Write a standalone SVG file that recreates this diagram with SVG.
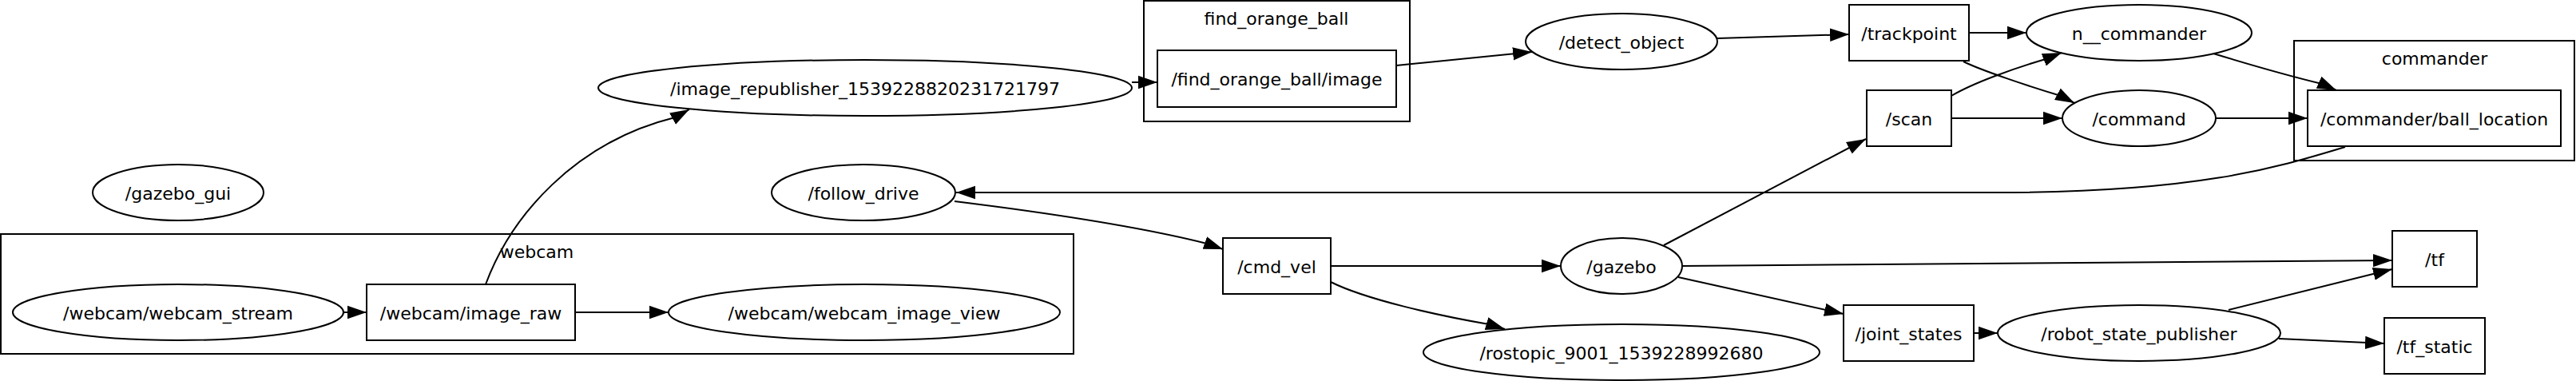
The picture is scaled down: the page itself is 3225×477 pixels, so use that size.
<svg xmlns="http://www.w3.org/2000/svg" width="3225" height="477" viewBox="0 0 3225 477">
<style>
text{font-family:"DejaVu Sans","Liberation Sans",sans-serif;font-size:22px;fill:#000;text-anchor:middle}
.n{fill:none;stroke:#000;stroke-width:2}
.c{fill:none;stroke:#000;stroke-width:2}
.e{fill:none;stroke:#000;stroke-width:2;marker-end:url(#ah)}
</style>
<defs>
<marker id="ah" markerUnits="userSpaceOnUse" markerWidth="24" markerHeight="18" viewBox="0 0 22 16" refX="22" refY="8" orient="auto">
<path d="M0,0.5 L22,8 L0,15.5 z" fill="#000"/>
</marker>
</defs>
<rect x="0" y="0" width="3225" height="477" fill="#fff"/>

<g id="cluster_webcam"><rect class="c" x="1" y="293" width="1343" height="150"/><text x="672" y="323">webcam</text></g>
<g id="cluster_find_orange_ball"><rect class="c" x="1432" y="1" width="333" height="151"/><text x="1598" y="31">find_orange_ball</text></g>
<g id="cluster_commander"><rect class="c" x="2872" y="51" width="351" height="150"/><text x="3048" y="81">commander</text></g>

<g id="gazebo_gui"><ellipse class="n" cx="223" cy="241" rx="107" ry="35"/><text x="223" y="250">/gazebo_gui</text></g>
<g id="follow_drive"><ellipse class="n" cx="1081" cy="241" rx="115" ry="35"/><text x="1081" y="250">/follow_drive</text></g>
<g id="webcam_stream"><ellipse class="n" cx="223" cy="391" rx="207" ry="35"/><text x="223" y="400">/webcam/webcam_stream</text></g>
<g id="image_raw"><rect class="n" x="459" y="356" width="261" height="70"/><text x="589.5" y="400">/webcam/image_raw</text></g>
<g id="webcam_image_view"><ellipse class="n" cx="1082" cy="391" rx="245" ry="35"/><text x="1082" y="400">/webcam/webcam_image_view</text></g>
<g id="image_republisher"><ellipse class="n" cx="1083" cy="110" rx="334" ry="35"/><text x="1083" y="119">/image_republisher_1539228820231721797</text></g>
<g id="find_orange_ball_image"><rect class="n" x="1449" y="63" width="299" height="71"/><text x="1598.5" y="107">/find_orange_ball/image</text></g>
<g id="detect_object"><ellipse class="n" cx="2030" cy="52" rx="120" ry="35"/><text x="2030" y="61">/detect_object</text></g>
<g id="trackpoint"><rect class="n" x="2315" y="6" width="150" height="70"/><text x="2390" y="50">/trackpoint</text></g>
<g id="n__commander"><ellipse class="n" cx="2678" cy="41" rx="141" ry="35"/><text x="2678" y="50">n__commander</text></g>
<g id="scan"><rect class="n" x="2337" y="113" width="106" height="70"/><text x="2390" y="157">/scan</text></g>
<g id="command"><ellipse class="n" cx="2678" cy="148" rx="96" ry="35"/><text x="2678" y="157">/command</text></g>
<g id="ball_location"><rect class="n" x="2889" y="113" width="317" height="70"/><text x="3047.5" y="157">/commander/ball_location</text></g>
<g id="cmd_vel"><rect class="n" x="1531" y="298" width="135" height="70"/><text x="1598.5" y="342">/cmd_vel</text></g>
<g id="gazebo"><ellipse class="n" cx="2030" cy="333" rx="76" ry="35"/><text x="2030" y="342">/gazebo</text></g>
<g id="rostopic"><ellipse class="n" cx="2030" cy="441" rx="248" ry="35"/><text x="2030" y="450">/rostopic_9001_1539228992680</text></g>
<g id="tf"><rect class="n" x="2995" y="289" width="106" height="70"/><text x="3048" y="333">/tf</text></g>
<g id="tf_static"><rect class="n" x="2985" y="398" width="126" height="70"/><text x="3048" y="442">/tf_static</text></g>
<g id="joint_states"><rect class="n" x="2308" y="382" width="163" height="70"/><text x="2389.5" y="426">/joint_states</text></g>
<g id="robot_state_publisher"><ellipse class="n" cx="2678" cy="417" rx="177" ry="35"/><text x="2678" y="426">/robot_state_publisher</text></g>

<g id="edges">
<path class="e" d="M430,391 L459,391"/>
<path class="e" d="M720,391 L837,391"/>
<path class="e" d="M608,356 C640,270 720,178 845,147 L863,137"/>
<path class="e" d="M1417,103 L1449,103"/>
<path class="e" d="M1748,82 L1918,65"/>
<path class="e" d="M2150,48 L2315,43"/>
<path class="e" d="M2465,41 L2537,41"/>
<path class="e" d="M2458,77 C2480,88 2540,108 2580,120 L2597,129"/>
<path class="e" d="M2443,120 C2470,104 2520,86 2561,74 L2581,66"/>
<path class="e" d="M2443,148 L2582,148"/>
<path class="e" d="M2774,148 L2889,148"/>
<path class="e" d="M2771,67 C2820,82 2870,96 2907,105 L2925,113"/>
<path class="e" d="M2936,184 C2850,210 2750,241 2500,241 L1197,241"/>
<path class="e" d="M1195,252 C1300,265 1420,282 1511,305 L1531,312"/>
<path class="e" d="M1666,333 L1954,333"/>
<path class="e" d="M1666,353 C1710,375 1800,395 1864,406 L1884,412"/>
<path class="e" d="M2083,307 L2336,174"/>
<path class="e" d="M2105,333 L2995,326"/>
<path class="e" d="M2101,347 L2308,393"/>
<path class="e" d="M2471,417 L2501,417"/>
<path class="e" d="M2790,388 L2995,337"/>
<path class="e" d="M2853,424 L2985,430"/>
</g>
</svg>
